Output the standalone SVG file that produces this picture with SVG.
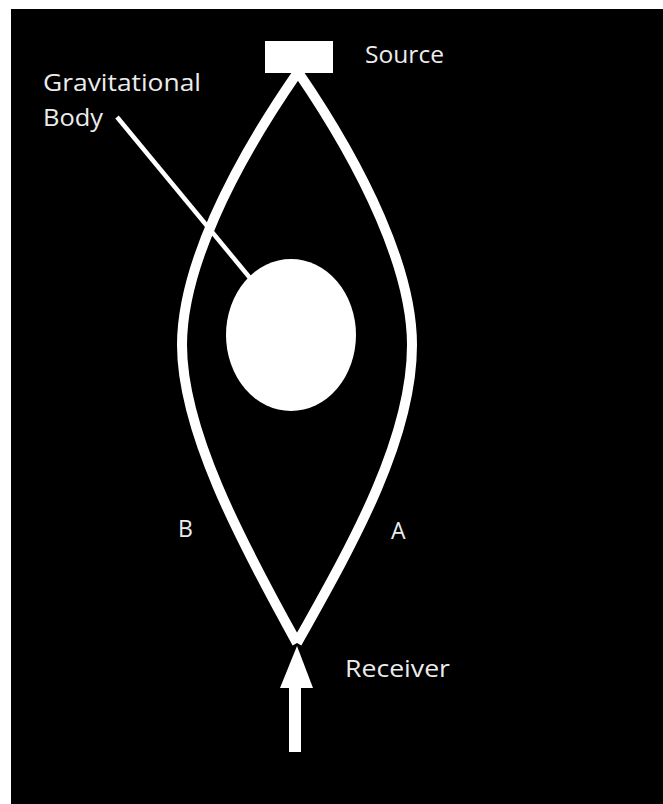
<svg xmlns="http://www.w3.org/2000/svg" width="663" height="804" viewBox="0 0 663 804">
<style>
.lbl{font-family:"Open Sans","Liberation Sans",sans-serif;font-size:23px;fill:#ececec}
.ray{fill:none;stroke:#fff;stroke-width:10}
</style>
<rect x="0" y="0" width="663" height="804" fill="#fff"/>
<rect x="11" y="9" width="652" height="795" fill="#000"/>
<g id="connectors">
<path id="pathB" class="ray" d="M298,72 C230,170 182,270 182,345 C182,430 240,540 297,643"/>
<path id="pathA" class="ray" d="M298,72 C365,170 412,270 412,345 C412,440 352,545 297,643"/>
<line id="pointer" x1="117" y1="117" x2="255" y2="284" stroke="#fff" stroke-width="4.5"/>
<g id="receiver-arrow" fill="#fff">
<polygon points="297,646 313,688 280,688"/>
<rect x="289" y="686" width="12" height="66"/>
</g>
</g>
<g id="source">
<rect x="265" y="41" width="68" height="32" fill="#fff"/>
<text class="lbl" x="365" y="63" textLength="79" lengthAdjust="spacingAndGlyphs">Source</text>
</g>
<g id="gravitational-body">
<ellipse cx="291" cy="335" rx="65" ry="76" fill="#fff"/>
<text class="lbl" x="43" y="91" textLength="158" lengthAdjust="spacingAndGlyphs">Gravitational</text>
<text class="lbl" x="43" y="126" textLength="60" lengthAdjust="spacingAndGlyphs">Body</text>
</g>
<g id="receiver">
<text class="lbl" x="345" y="677" textLength="105" lengthAdjust="spacingAndGlyphs">Receiver</text>
</g>
<g id="label-B"><text class="lbl" x="178" y="537">B</text></g>
<g id="label-A"><text class="lbl" x="391" y="539">A</text></g>
</svg>
